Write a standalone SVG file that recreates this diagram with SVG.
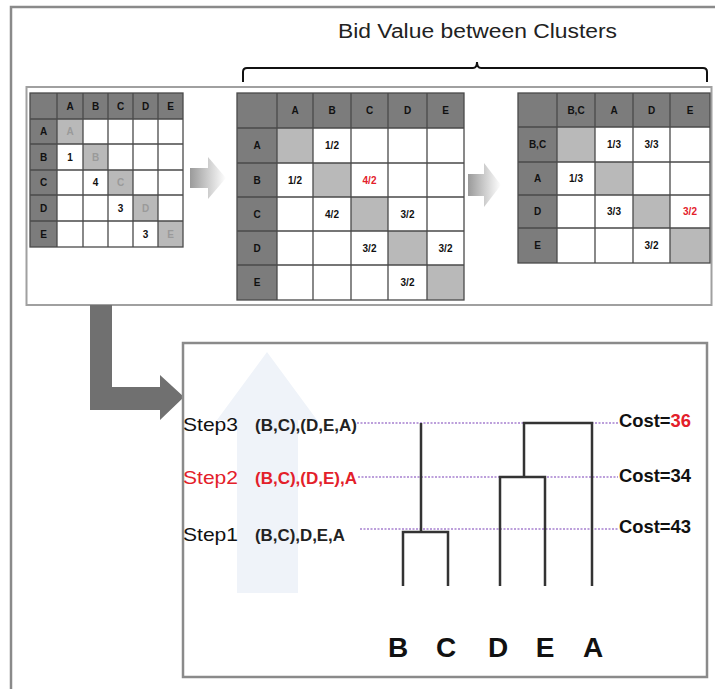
<svg xmlns="http://www.w3.org/2000/svg" width="715" height="689" viewBox="0 0 715 689">
<style>
.frame{fill:none;stroke:#8a8a8a;stroke-width:2.5}
.hdr{fill:#7c7c7c}
.diag{fill:#b9b9b9}
.grid{stroke:#4a4a4a;stroke-width:1.3;fill:none}
.cell{fill:#ffffff}
.ht{font-family:"Liberation Sans",Arial,sans-serif;font-weight:bold;font-size:10px;fill:#111;text-anchor:middle}
.dt{font-family:"Liberation Sans",Arial,sans-serif;font-weight:bold;font-size:10px;fill:#9a9a9a;text-anchor:middle}
.step{font-family:"Liberation Sans",Arial,sans-serif;font-size:19px;fill:#111}
.grp{font-family:"Liberation Sans",Arial,sans-serif;font-size:17px;font-weight:bold;fill:#222}
.cost{font-family:"Liberation Sans",Arial,sans-serif;font-size:19px;fill:#111;font-weight:600}
.leaf{font-family:"Liberation Sans",Arial,sans-serif;font-size:28px;font-weight:bold;fill:#111;text-anchor:middle}
.dot{stroke:#a680d0;stroke-width:1.6;stroke-dasharray:2 1.5;fill:none}
.den{stroke:#333;stroke-width:2.5;fill:none}
text.red,tspan.red{fill:#e3202a}
</style>
<defs>
<linearGradient id="ga" x1="0" y1="0" x2="1" y2="0">
<stop offset="0" stop-color="#9a9a9a"/>
<stop offset="1" stop-color="#ffffff"/>
</linearGradient>
</defs>
<rect x="0" y="0" width="715" height="689" fill="#ffffff"/>
<rect class="frame" x="11" y="7" width="720" height="700"/>

<g id="title">
<text x="338" y="38" font-family="Liberation Sans, Arial, sans-serif" font-size="20" fill="#222" textLength="279" lengthAdjust="spacingAndGlyphs">Bid Value between Clusters</text>
<path d="M243,82 V72 Q243,68 247,68 H473 Q477,68 477,62 Q477,68 481,68 H703 Q707,68 707,72 V82" fill="none" stroke="#111" stroke-width="2"/>
</g>

<g id="top-panel">
<rect x="26.5" y="87" width="685" height="218" fill="#ffffff" stroke="#a0a0a0" stroke-width="2"/>
</g>

<g id="matrix1">
<rect class="cell" x="30" y="93" width="153" height="154"/>
<rect class="hdr" x="30" y="93" width="153" height="26"/>
<rect class="hdr" x="30" y="119" width="27" height="128"/>
<rect class="diag" x="57" y="119" width="26" height="25"/>
<rect class="diag" x="83" y="144" width="25" height="26"/>
<rect class="diag" x="108" y="170" width="25" height="25"/>
<rect class="diag" x="133" y="195" width="25" height="26"/>
<rect class="diag" x="158" y="221" width="25" height="26"/>
<path class="grid" d="M57,93V247M83,93V247M108,93V247M133,93V247M158,93V247M30,119H183M30,144H183M30,170H183M30,195H183M30,221H183"/>
<rect class="grid" x="30" y="93" width="153" height="154" stroke-width="2"/>
<text class="ht" x="70" y="110">A</text><text class="ht" x="95.5" y="110">B</text><text class="ht" x="120.5" y="110">C</text><text class="ht" x="145.5" y="110">D</text><text class="ht" x="170.5" y="110">E</text>
<text class="ht" x="43.5" y="135">A</text><text class="ht" x="43.5" y="161">B</text><text class="ht" x="43.5" y="186">C</text><text class="ht" x="43.5" y="212">D</text><text class="ht" x="43.5" y="238">E</text>
<text class="dt" x="70" y="135">A</text><text class="dt" x="95.5" y="161">B</text><text class="dt" x="120.5" y="186">C</text><text class="dt" x="145.5" y="212">D</text><text class="dt" x="170.5" y="238">E</text>
<text class="ht" x="70" y="161">1</text><text class="ht" x="95.5" y="186">4</text><text class="ht" x="120.5" y="212">3</text><text class="ht" x="145.5" y="238">3</text>
</g>

<g id="arrow1">
<polygon points="190,168 208,168 208,157 226,178 208,199 208,188 190,188" fill="url(#ga)"/>
</g>

<g id="matrix2">
<rect class="cell" x="237" y="93" width="227" height="207"/>
<rect class="hdr" x="237" y="93" width="227" height="35"/>
<rect class="hdr" x="237" y="128" width="40" height="172"/>
<rect class="diag" x="277" y="128" width="36" height="35"/>
<rect class="diag" x="313" y="163" width="38" height="34"/>
<rect class="diag" x="351" y="197" width="37" height="34"/>
<rect class="diag" x="388" y="231" width="39" height="34"/>
<rect class="diag" x="427" y="265" width="37" height="35"/>
<path class="grid" d="M277,93V300M313,93V300M351,93V300M388,93V300M427,93V300M237,128H464M237,163H464M237,197H464M237,231H464M237,265H464"/>
<rect class="grid" x="237" y="93" width="227" height="207" stroke-width="2"/>
<text class="ht" x="295" y="114">A</text><text class="ht" x="332" y="114">B</text><text class="ht" x="369.5" y="114">C</text><text class="ht" x="407.5" y="114">D</text><text class="ht" x="445.5" y="114">E</text>
<text class="ht" x="257" y="149">A</text><text class="ht" x="257" y="184">B</text><text class="ht" x="257" y="218">C</text><text class="ht" x="257" y="252">D</text><text class="ht" x="257" y="286">E</text>
<text class="ht" x="332" y="149">1/2</text>
<text class="ht" x="295" y="184">1/2</text><text class="ht red" x="369.5" y="184">4/2</text>
<text class="ht" x="332" y="218">4/2</text><text class="ht" x="407.5" y="218">3/2</text>
<text class="ht" x="369.5" y="252">3/2</text><text class="ht" x="445.5" y="252">3/2</text>
<text class="ht" x="407.5" y="286">3/2</text>
</g>

<g id="arrow2">
<polygon points="468,174 484,174 484,163 501,185 484,207 484,196 468,196" fill="url(#ga)"/>
</g>

<g id="matrix3">
<rect class="cell" x="518" y="93" width="192" height="170"/>
<rect class="hdr" x="518" y="93" width="192" height="34"/>
<rect class="hdr" x="518" y="127" width="39" height="136"/>
<rect class="diag" x="557" y="127" width="38" height="35"/>
<rect class="diag" x="595" y="162" width="38" height="33"/>
<rect class="diag" x="633" y="195" width="37" height="33"/>
<rect class="diag" x="670" y="228" width="40" height="35"/>
<path class="grid" d="M557,93V263M595,93V263M633,93V263M670,93V263M518,127H710M518,162H710M518,195H710M518,228H710"/>
<rect class="grid" x="518" y="93" width="192" height="170" stroke-width="2"/>
<text class="ht" x="576" y="114">B,C</text><text class="ht" x="614" y="114">A</text><text class="ht" x="651.5" y="114">D</text><text class="ht" x="690" y="114">E</text>
<text class="ht" x="537.5" y="148">B,C</text><text class="ht" x="537.5" y="182">A</text><text class="ht" x="537.5" y="215">D</text><text class="ht" x="537.5" y="249">E</text>
<text class="ht" x="614" y="148">1/3</text><text class="ht" x="651.5" y="148">3/3</text>
<text class="ht" x="576" y="182">1/3</text>
<text class="ht" x="614" y="215">3/3</text><text class="ht red" x="690" y="215">3/2</text>
<text class="ht" x="651.5" y="249">3/2</text>
</g>

<g id="l-arrow">
<polygon points="90,305 112,305 112,387 160,387 160,375 184,397 160,420 160,410 90,410" fill="#707070"/>
</g>

<g id="bottom-panel">
<rect x="183" y="343" width="524" height="334" fill="#ffffff" stroke="#8a8a8a" stroke-width="2.5"/>
<polygon points="237,593 237,420 217,420 267,352 317,420 298,420 298,593" fill="#eff3f9"/>
</g>

<g id="connectors">
<path class="dot" d="M357,423H618M358,477H618M360,529H618"/>
<path class="den" d="M403,586V532H448V586M421,532V423"/>
<path class="den" d="M500,586V477H545V586"/>
<path class="den" d="M524,477V423H592V586"/>
</g>

<g id="step3">
<text class="step" x="183" y="431" textLength="55" lengthAdjust="spacingAndGlyphs">Step3</text>
<text class="grp" x="255" y="431" textLength="102" lengthAdjust="spacingAndGlyphs">(B,C),(D,E,A)</text>
</g>
<g id="step2">
<text class="step red" x="183" y="484" textLength="55" lengthAdjust="spacingAndGlyphs">Step2</text>
<text class="grp red" x="255" y="484" textLength="102" lengthAdjust="spacingAndGlyphs">(B,C),(D,E),A</text>
</g>
<g id="step1">
<text class="step" x="183" y="541" textLength="55" lengthAdjust="spacingAndGlyphs">Step1</text>
<text class="grp" x="255" y="541" textLength="90" lengthAdjust="spacingAndGlyphs">(B,C),D,E,A</text>
</g>

<g id="costs">
<text class="cost" x="619" y="427" textLength="72" lengthAdjust="spacingAndGlyphs">Cost=<tspan class="red">36</tspan></text>
<text class="cost" x="619" y="482" textLength="72" lengthAdjust="spacingAndGlyphs">Cost=34</text>
<text class="cost" x="619" y="533" textLength="72" lengthAdjust="spacingAndGlyphs">Cost=43</text>
</g>

<g id="leaves">
<text class="leaf" x="398" y="657">B</text>
<text class="leaf" x="446" y="657">C</text>
<text class="leaf" x="498" y="657">D</text>
<text class="leaf" x="545" y="657">E</text>
<text class="leaf" x="593" y="657">A</text>
</g>
</svg>
